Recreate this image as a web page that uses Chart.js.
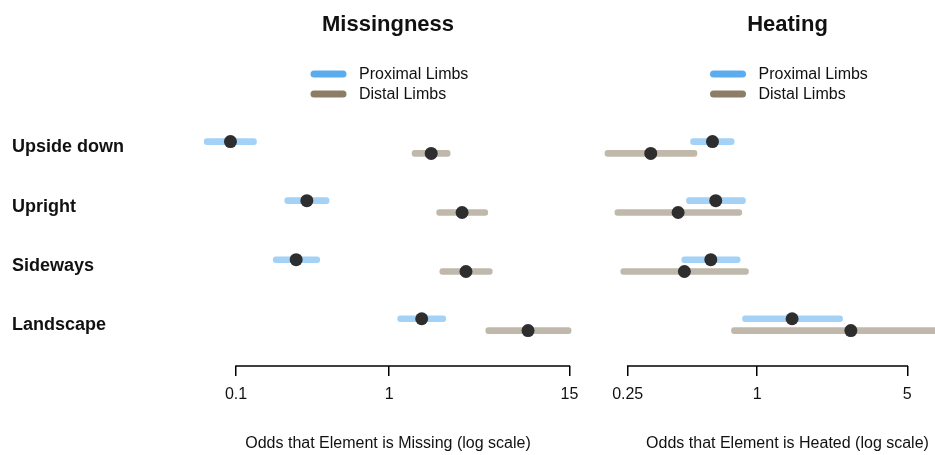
<!DOCTYPE html>
<html>
<head>
<meta charset="utf-8">
<script src="https://cdn.jsdelivr.net/npm/chart.js@4.4.1/dist/chart.umd.min.js"></script>
<style>
  html, body { margin: 0; padding: 0; background: #fff; }
  #wrap { position: relative; width: 935px; height: 455px; }
  #wrap canvas { position: absolute; top: 0; }
</style>
</head>
<body>
<div id="wrap">
  <canvas id="missChart" width="590" height="455" style="left:0"></canvas>
  <canvas id="heatChart" width="345" height="455" style="left:590px"></canvas>
</div>
<script>
const categories = ['Upside down', 'Upright', 'Sideways', 'Landscape'];

// Missingness odds (estimate, lower, upper)
const missProxEst = [0.092, 0.29, 0.247, 1.63];
const missProxLo = [0.062, 0.208, 0.175, 1.135];
const missProxHi = [0.136, 0.405, 0.352, 2.34];
const missDistEst = [1.88, 2.99, 3.17, 8.06];
const missDistLo = [1.41, 2.04, 2.14, 4.27];
const missDistHi = [2.50, 4.40, 4.71, 15.4];
const missTicks = [0.1, 1, 15];

// Heating odds
const heatProxEst = [0.620, 0.642, 0.609, 1.455];
const heatProxLo = [0.490, 0.469, 0.446, 0.855];
const heatProxHi = [0.782, 0.883, 0.834, 2.50];
const heatDistEst = [0.320, 0.429, 0.459, 2.73];
const heatDistLo = [0.196, 0.218, 0.232, 0.760];
const heatDistHi = [0.525, 0.849, 0.912, 7.5];
const heatTicks = [0.25, 1, 5];

const seriesNames = ['Proximal Limbs', 'Distal Limbs'];
const proxColor = '#5aacee';
const distColor = '#8b7d66';
const FONT = "'Liberation Sans', Arial, sans-serif";

// R-style decorations: bold title, stacked legend of thick lines,
// axis title, and an axis line that only runs between the end ticks
const headerPlugin = {
    id: 'header',
    afterDraw(chart, args, opts) {
        const ctx = chart.ctx;
        ctx.save();
        ctx.fillStyle = '#111';
        ctx.textAlign = 'center';
        ctx.textBaseline = 'middle';
        ctx.font = `bold 22px ${FONT}`;
        ctx.fillText(opts.title, opts.cx, 25);
        ctx.font = `16px ${FONT}`;
        ctx.fillText(opts.xTitle, opts.cx, 444);
        ctx.textAlign = 'left';
        ctx.lineCap = 'round';
        ctx.lineWidth = 7;
        [proxColor, distColor].forEach((col, i) => {
            const y = 74 + i * 20;
            ctx.strokeStyle = col;
            ctx.beginPath();
            ctx.moveTo(opts.cx - 74, y);
            ctx.lineTo(opts.cx - 45, y);
            ctx.stroke();
            ctx.fillText(seriesNames[i], opts.cx - 29, y + 1);
        });
        const xs = chart.scales.x;
        const t = xs.ticks;
        ctx.strokeStyle = '#000';
        ctx.lineWidth = 1.5;
        ctx.lineCap = 'butt';
        ctx.beginPath();
        ctx.moveTo(xs.getPixelForValue(t[0].value) - 0.75, chart.chartArea.bottom);
        ctx.lineTo(xs.getPixelForValue(t[t.length - 1].value) + 0.75, chart.chartArea.bottom);
        ctx.stroke();
        ctx.restore();
    },
};

function rows(vals, shift) {
    return vals.map((v, i) => ({ x: v, y: i + shift }));
}

function ranges(lo, hi, shift) {
    return lo.map((v, i) => ({ x: [v, hi[i]], y: i + shift }));
}

function makePanel(id, p) {
    const barStyle = {
        type: 'bar',
        grouped: false,
        barThickness: 6,
        borderRadius: 3,
        borderSkipped: false,
        order: 2,
    };
    const pointStyle = {
        type: 'scatter',
        pointRadius: 6.5,
        pointBackgroundColor: '#2e2e2e',
        pointBorderColor: '#2e2e2e',
        pointBorderWidth: 0,
        clip: false,
        order: 1,
    };
    new Chart(document.getElementById(id), {
        type: 'bar',
        data: {
            datasets: [
                { ...barStyle, label: seriesNames[0], data: ranges(p.proxLo, p.proxHi, -0.1), backgroundColor: 'rgba(90, 172, 238, 0.55)' },
                { ...barStyle, label: seriesNames[1], data: ranges(p.distLo, p.distHi, 0.1), backgroundColor: 'rgba(139, 125, 102, 0.55)' },
                { ...pointStyle, label: 'prox est', data: rows(p.proxEst, -0.1) },
                { ...pointStyle, label: 'dist est', data: rows(p.distEst, 0.1) },
            ],
        },
        options: {
            indexAxis: 'y',
            responsive: false,
            animation: false,
            layout: { padding: p.padding, autoPadding: false },
            scales: {
                x: {
                    type: 'logarithmic',
                    min: p.min,
                    max: p.max,
                    bounds: 'data',
                    offset: false,
                    afterBuildTicks: (s) => { s.ticks = p.ticks.map((v) => ({ value: v })); },
                    afterFit: (s) => {
                        s.height = 89;
                        s.paddingLeft = 0;
                        s.paddingRight = 0;
                    },
                    grid: { offset: false, drawOnChartArea: false, drawTicks: true, tickLength: 10, color: '#000', lineWidth: 1.5 },
                    border: { display: false },
                    ticks: {
                        autoSkip: false,
                        maxRotation: 0,
                        padding: 9,
                        color: '#111',
                        font: { family: FONT, size: 16 },
                        callback: (v) => String(v),
                    },
                },
                y: {
                    type: 'linear',
                    reverse: true,
                    min: -0.5,
                    max: 3.7,
                    offset: false,
                    display: p.showY,
                    afterBuildTicks: (s) => { s.ticks = categories.map((c, i) => ({ value: i })); },
                    afterFit: (s) => { if (p.showY) s.width = p.yWidth; },
                    grid: { display: false, offset: false },
                    border: { display: false },
                    ticks: {
                        crossAlign: 'far',
                        color: '#111',
                        font: { family: FONT, size: 18, weight: 'bold' },
                        callback: (v) => categories[v] ?? '',
                    },
                },
            },
            plugins: {
                legend: { display: false },
                tooltip: { enabled: false },
                header: { title: p.title, xTitle: p.xTitle, cx: p.cx },
            },
        },
        plugins: [headerPlugin],
    });
}

makePanel('missChart', {
    title: 'Missingness',
    xTitle: 'Odds that Element is Missing (log scale)',
    proxEst: missProxEst, proxLo: missProxLo, proxHi: missProxHi,
    distEst: missDistEst, distLo: missDistLo, distHi: missDistHi,
    ticks: missTicks,
    min: 0.054, max: 18.97,
    showY: true, yWidth: 183,
    padding: { left: 12, right: 5, top: 118, bottom: 0 },
    cx: 388,
});

makePanel('heatChart', {
    title: 'Heating',
    xTitle: 'Odds that Element is Heated (log scale)',
    proxEst: heatProxEst, proxLo: heatProxLo, proxHi: heatProxHi,
    distEst: heatDistEst, distLo: heatDistLo, distHi: heatDistHi,
    ticks: heatTicks,
    min: 0.1858, max: 6.726,
    showY: false,
    padding: { left: 10, right: 0, top: 118, bottom: 0 },
    cx: 197.5,
});
</script>
</body>
</html>
